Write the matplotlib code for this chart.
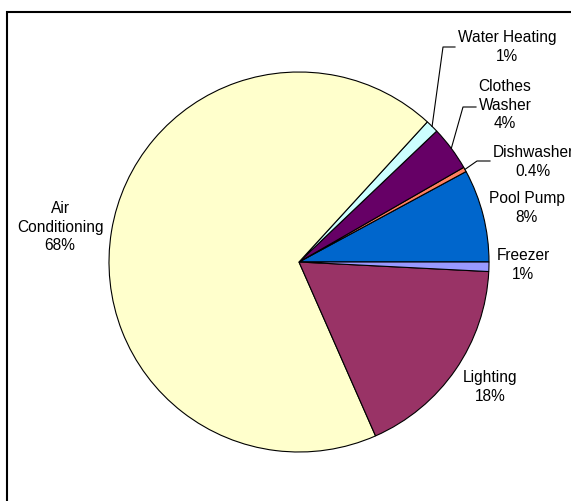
import matplotlib
matplotlib.use("Agg")
import matplotlib.pyplot as plt
from matplotlib.patches import Rectangle
import numpy as np

# slices, counterclockwise from 3 o'clock
categories = ["Pool Pump", "Dishwasher", "Clothes\nWasher", "Water Heating",
              "Air\nConditioning", "Lighting", "Freezer"]
values = [7.9, 0.4, 3.8, 1.1, 68.4, 17.6, 0.8]
pct_labels = ["8%", "0.4%", "4%", "1%", "68%", "18%", "1%"]
colors = ["#0066CC", "#FF8060", "#660066", "#CCFFFF", "#FFFFCC", "#993366", "#9999FF"]

plt.rcParams["font.family"] = ["Liberation Sans", "DejaVu Sans"]

W, H = 571, 501
fig = plt.figure(figsize=(W / 100, H / 100), dpi=100)
ax = fig.add_axes([0, 0, 1, 1])

# chart border (only left and top visible)
fig.patches.append(Rectangle((7 / W, -0.1), 1.2, (H - 12) / H + 0.1,
                             transform=fig.transFigure, fill=False,
                             edgecolor="black", linewidth=1.5))

cx, cy, r = 299, H - 262, 190
wedges, _ = ax.pie(values, colors=colors, startangle=0, counterclock=True,
                   center=(cx, cy), radius=r, frame=True,
                   wedgeprops=dict(edgecolor="black", linewidth=0.8))
ax.set_xlim(0, W)
ax.set_ylim(0, H)
ax.set_aspect("equal")
ax.axis("off")

# label positions (pixel coords from top) and optional leader elbows
label_pos = {
    "Pool Pump": (527, 208),
    "Dishwasher": (533, 162),
    "Clothes\nWasher": (505, 105),
    "Water Heating": (507, 47),
    "Air\nConditioning": (60, 227),
    "Lighting": (490, 387),
    "Freezer": (523, 265),
}
leaders = {
    "Dishwasher": [(477, 161), (490, 161)],
    "Clothes\nWasher": [(463, 107), (476, 107)],
    "Water Heating": [(443, 47), (455, 47)],
}

for w, cat, pct in zip(wedges, categories, pct_labels):
    x, y = label_pos[cat]
    ax.text(x, H - y, cat + "\n" + pct, ha="center", va="center",
            fontsize=11.2, linespacing=1.27, color="black")
    if cat in leaders:
        ang = np.deg2rad((w.theta1 + w.theta2) / 2)
        pts = [(cx + r * np.cos(ang), cy + r * np.sin(ang))]
        pts += [(px, H - py) for px, py in leaders[cat]]
        xs, ys = zip(*pts)
        ax.plot(xs, ys, color="black", linewidth=0.8)

fig.savefig("out.png", dpi=100, facecolor="white")
